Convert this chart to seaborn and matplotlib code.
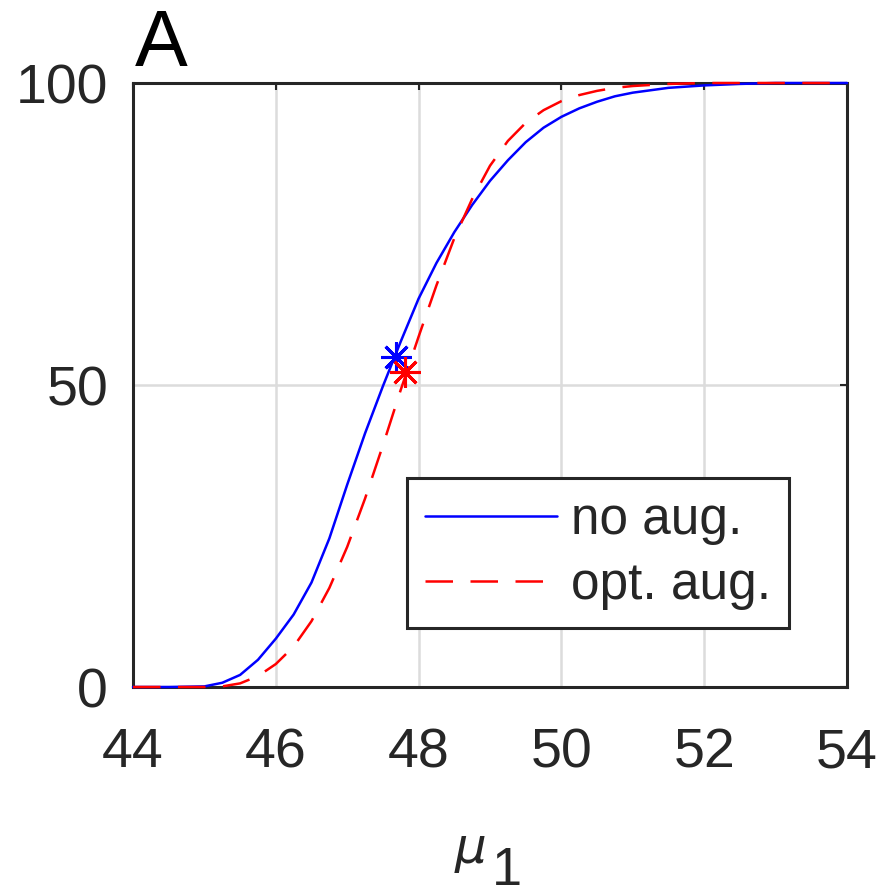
import matplotlib
matplotlib.use("Agg")
import matplotlib.pyplot as plt
import seaborn as sns
import pandas as pd

# Cumulative curves (percent) over mu_1
mu = [44, 44.5, 45, 45.25, 45.5, 45.75, 46, 46.25, 46.5, 46.75, 47, 47.25,
      47.5, 47.75, 48, 48.25, 48.5, 48.75, 49, 49.25, 49.5, 49.75, 50, 50.25,
      50.5, 50.75, 51, 51.5, 52, 52.5, 53, 54]
no_aug = [0, 0, 0.1, 0.7, 2.0, 4.5, 8.0, 12.0, 17.3, 24.6, 33.5, 42.0,
          49.8, 57.2, 64.3, 70.2, 75.3, 79.8, 83.8, 87.2, 90.2, 92.6, 94.4, 95.8,
          96.9, 97.8, 98.4, 99.2, 99.6, 99.85, 100, 100]
opt_aug = [0, 0, 0, 0.1, 0.6, 1.8, 3.8, 6.7, 10.9, 16.4, 23.2, 31.2,
           40.0, 49.2, 58.0, 66.5, 74.3, 80.8, 86.3, 90.4, 93.4, 95.5, 97.0, 98.0,
           98.7, 99.2, 99.5, 99.85, 100, 100, 100, 100]
series_names = ["no aug.", "opt. aug."]

# Marked points on each curve
star_mu = [47.69, 47.81]
star_val = [54.6, 52.2]

x_ticks = [44, 46, 48, 50, 52, 54]
y_ticks = [0, 50, 100]
panel_label = "A"

sns.set_theme(style="white")
plt.rcParams["font.family"] = ["Liberation Sans", "DejaVu Sans"]

W, H = 880, 890
fig = plt.figure(figsize=(W / 100, H / 100), dpi=100)
ax = fig.add_axes([133 / W, 1 - 687 / H, 714 / W, 604 / H])

df = pd.DataFrame({"mu": mu, "no_aug": no_aug, "opt_aug": opt_aug})

sns.lineplot(data=df, x="mu", y="no_aug", color="#0000ff", lw=1.8,
             label=series_names[0], ax=ax, zorder=3, clip_on=False)
sns.lineplot(data=df, x="mu", y="opt_aug", color="#ff0000", lw=1.8,
             label=series_names[1], ax=ax, zorder=3.1, clip_on=False)
ax.lines[1].set_dashes((11, 7))

star = (8, 2, 0)
ax.plot([star_mu[0]], [star_val[0]], marker=star, ms=22, mew=2.2,
        color="#0000ff", ls="none", zorder=4, clip_on=False)
ax.plot([star_mu[1]], [star_val[1]], marker=star, ms=22, mew=2.2,
        color="#ff0000", ls="none", zorder=4.1, clip_on=False)

ax.set_xlim(44, 54)
ax.set_ylim(0, 100)
ax.set_xticks(x_ticks)
ax.set_yticks(y_ticks)
ax.set_xticklabels([str(t) for t in x_ticks])
ax.set_yticklabels([str(t) for t in y_ticks])
ax.set_xlabel("")
ax.set_ylabel("")

ax.grid(True, color="#dcdcdc", lw=1.8)
ax.set_axisbelow(True)
for s in ax.spines.values():
    s.set_visible(True)
    s.set_color("#262626")
    s.set_linewidth(2.2)

ax.tick_params(axis="both", which="major", direction="in", length=5,
               width=1.5, color="#262626", labelcolor="#262626",
               labelsize=40, top=True, right=True)
ax.tick_params(axis="x", pad=29)
ax.tick_params(axis="y", pad=18)

leg = ax.legend(loc="lower right", bbox_to_anchor=(0.919, 0.0977),
                borderaxespad=0, fontsize=37, frameon=True, fancybox=False,
                framealpha=1, edgecolor="#262626", handlelength=2.57,
                handletextpad=0.27, labelspacing=0.32, borderpad=0.35)
leg.get_frame().set_linewidth(2.2)
for t in leg.get_texts():
    t.set_color("#262626")

# Panel letter
fig.text(135 / W, 1 - 66 / H, panel_label, fontsize=57, color="black",
         ha="left", va="baseline")

# Axis label mu_1
fig.text(471 / W, 1 - 849 / H, "\u03bc", fontsize=36, style="italic",
         color="#262626", ha="center", va="center",
         family=["DejaVu Sans"])
fig.text(507 / W, 1 - 846 / H, "1", fontsize=39, color="#262626",
         ha="center", va="top")

fig.savefig("out.png", dpi=100)
